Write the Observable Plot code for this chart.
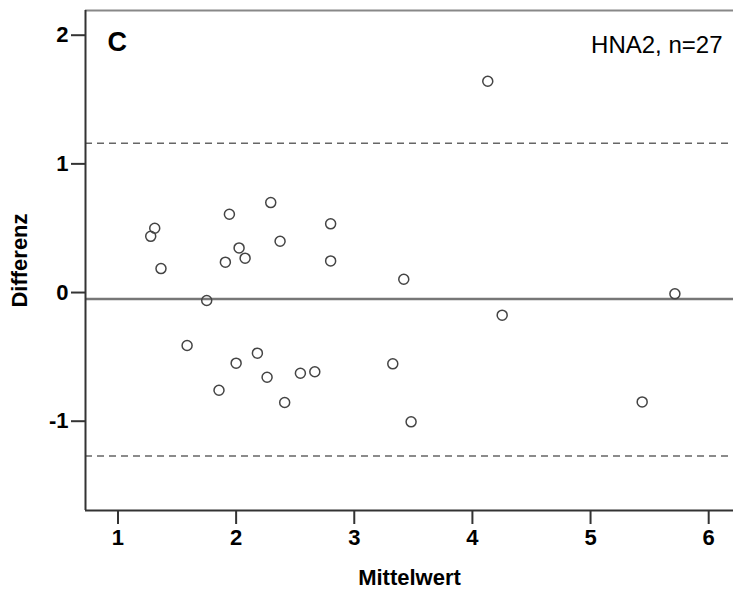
<!DOCTYPE html>
<html>
<head>
<meta charset="utf-8">
<script src="https://cdn.jsdelivr.net/npm/d3@7"></script>
<script src="https://cdn.jsdelivr.net/npm/@observablehq/plot@0.6"></script>
<style>
  html, body { margin: 0; padding: 0; background: #fff; }
</style>
</head>
<body>
<div id="chart"></div>
<script>
// Bland-Altman data: mean of the two methods (x) vs. difference (y)
const mittelwert = [1.277, 1.311, 1.364, 1.943, 1.909, 2.025, 2.076, 2.293, 2.372, 2.80, 2.80, 1.751,
  1.585, 2.00, 2.18, 1.855, 2.262, 2.411, 2.544, 2.666, 3.326, 3.481, 4.252, 5.437, 5.714, 4.13, 3.419];
const differenz = [0.437, 0.50, 0.186, 0.608, 0.236, 0.347, 0.267, 0.699, 0.399, 0.534, 0.246, -0.062,
  -0.412, -0.549, -0.471, -0.759, -0.658, -0.855, -0.627, -0.616, -0.554, -1.005, -0.176, -0.85, -0.01, 1.642, 0.103];
const meanDiff = [-0.05];
const limitsOfAgreement = [1.16, -1.27];
const xTicks = [1, 2, 3, 4, 5, 6];
const yTicks = [-1, 0, 1, 2];
const xDomain = [0.725, 6.21];
const yDomain = [-1.694, 2.192];
const panelLabel = ["C"];
const groupLabel = ["HNA2, n=27"];

const points = mittelwert.map((m, i) => ({m, d: differenz[i]}));

const chart = Plot.plot({
  width: 733,
  height: 589,
  marginLeft: 85,
  marginRight: 0,
  marginTop: 10,
  marginBottom: 79,
  style: {fontFamily: "'Liberation Sans', Arial, sans-serif", fontSize: "22px", fontWeight: "bold", color: "#000", background: "#fff"},
  x: {domain: xDomain},
  y: {domain: yDomain},
  marks: [
    Plot.ruleY(limitsOfAgreement, {stroke: "#666", strokeWidth: 1.6, strokeDasharray: "7,5"}),
    Plot.ruleY(meanDiff, {stroke: "#777", strokeWidth: 2.5}),
    Plot.ruleY([yDomain[1]], {stroke: "#888", strokeWidth: 2}),
    Plot.ruleY([yDomain[0]], {stroke: "#333", strokeWidth: 2}),
    Plot.ruleX([xDomain[0]], {stroke: "#333", strokeWidth: 2}),
    Plot.dot(points, {x: "m", y: "d", r: 5, stroke: "#444", strokeWidth: 1.5, fill: "none"}),
    Plot.axisX({ticks: xTicks, tickFormat: d => String(d), tickSize: 14, tickPadding: 5, strokeWidth: 2, stroke: "#333",
      label: "Mittelwert", labelAnchor: "center", labelOffset: 74, labelArrow: "none"}),
    Plot.axisY({ticks: yTicks, tickFormat: d => String(d), tickSize: 14, tickPadding: 3, strokeWidth: 2, stroke: "#333",
      label: "Differenz", labelAnchor: "center", labelOffset: 74, labelArrow: "none"}),
    Plot.text(panelLabel, {frameAnchor: "top-left", dx: 22, dy: 21, fontSize: 27, fontWeight: "bold", textAnchor: "start", lineAnchor: "top", fill: "#000"}),
    Plot.text(groupLabel, {frameAnchor: "top-right", dx: -11, dy: 25, fontSize: 24, fontWeight: "normal", textAnchor: "end", lineAnchor: "top", fill: "#000"})
  ]
});
document.getElementById("chart").appendChild(chart);
</script>
</body>
</html>
